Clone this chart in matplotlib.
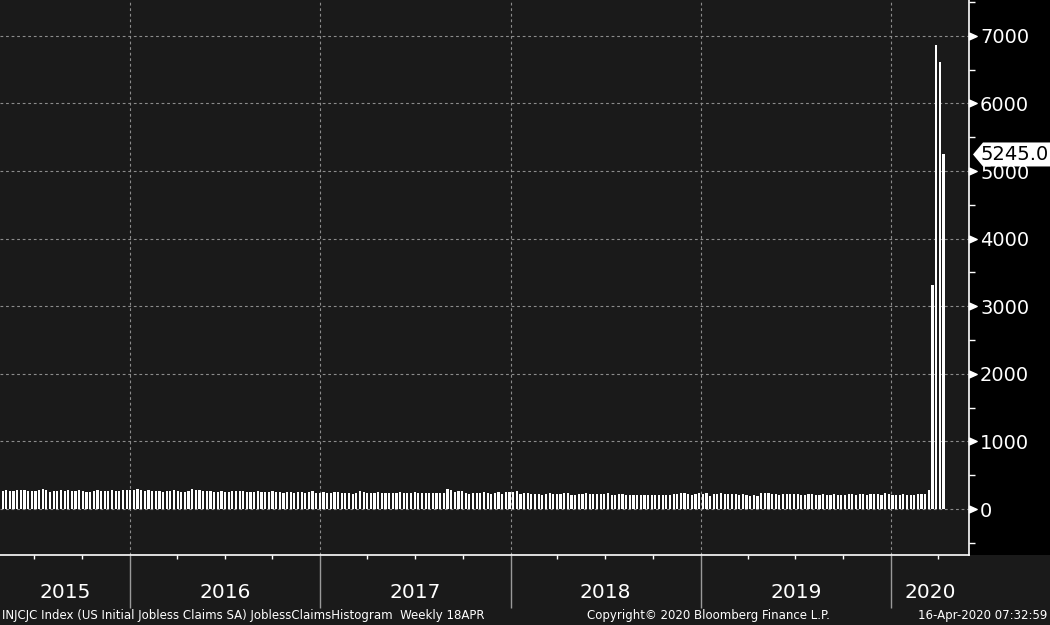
import matplotlib
matplotlib.use("Agg")
import matplotlib.pyplot as plt
import matplotlib.dates as mdates
from matplotlib.patches import Rectangle, Polygon
from matplotlib.path import Path
from matplotlib.transforms import blended_transform_factory
import numpy as np
import pandas as pd

plt.rcParams['font.family'] = ['DejaVu Sans']

# ---- data (US initial jobless claims SA, thousands, weekly) ----
first_week = "2015-05-02"
claims_2015 = [265, 275, 264, 274, 282, 276, 279, 268, 274, 271,
               281, 297, 281, 255, 267, 270, 277, 272, 282, 264,
               267, 277, 264, 255, 259, 262, 276, 271, 260, 272,
               283, 270, 271, 282, 287]
claims_2016 = [277, 284, 293, 278, 267, 285, 269, 262, 272, 259,
               267, 265, 276, 267, 248, 257, 274, 294, 278, 275,
               268, 267, 268, 258, 254, 269, 253, 252, 266, 262,
               262, 261, 254, 249, 252, 260, 254, 249, 258, 265,
               254, 246, 235, 252, 254, 242, 253, 258, 241, 254,
               265, 237, 244]
claims_2017 = [247, 235, 234, 259, 246, 238, 239, 244, 223, 242,
               261, 258, 241, 234, 243, 257, 238, 236, 232, 244,
               240, 248, 234, 244, 241, 246, 244, 234, 244, 240,
               232, 236, 244, 236, 298, 284, 259, 262, 260, 244,
               222, 233, 240, 239, 249, 238, 225, 236, 245, 225,
               245, 245]
claims_2018 = [250, 261, 220, 233, 231, 221, 225, 223, 210, 222,
               230, 227, 229, 216, 233, 230, 209, 211, 223, 224,
               234, 221, 218, 222, 227, 220, 231, 214, 208, 216,
               218, 211, 209, 213, 209, 203, 208, 202, 201, 206,
               214, 211, 214, 210, 216, 223, 230, 234, 227, 208,
               216, 232]
claims_2019 = [217, 231, 200, 215, 217, 236, 224, 225, 219, 227,
               209, 219, 209, 198, 207, 192, 230, 230, 230, 226,
               218, 211, 218, 221, 216, 229, 223, 209, 207, 216,
               218, 206, 212, 219, 213, 206, 215, 214, 206, 212,
               219, 222, 214, 215, 220, 212, 228, 220, 217, 204,
               235, 224]
claims_2020 = [210, 209, 214, 220, 202, 205, 211, 216, 220, 215,
               282, 3307, 6867, 6615, 5245]
claims = claims_2015 + claims_2016 + claims_2017 + claims_2018 + claims_2019 + claims_2020
weeks = pd.date_range(first_week, periods=len(claims), freq="7D")

y_major = [0, 1000, 2000, 3000, 4000, 5000, 6000, 7000]
y_minor = [-500, 500, 1500, 2500, 3500, 4500, 5500, 6500, 7500]
years = [2015, 2016, 2017, 2018, 2019, 2020]
x_start = pd.Timestamp("2015-04-27")
x_end = pd.Timestamp("2020-05-30")

footer_left = "INJCJC Index (US Initial Jobless Claims SA) JoblessClaimsHistogram  Weekly 18APR"
footer_mid = "Copyright\u00a9 2020 Bloomberg Finance L.P."
footer_right = "16-Apr-2020 07:32:59"

# ---- figure ----
W, H = 1050, 625
BG = "#1a1a1a"
fig = plt.figure(figsize=(W / 100, H / 100), dpi=100, facecolor=BG)
ax_r, ax_b = 969, 555
fig.patches.append(Rectangle((ax_r / W, 1 - ax_b / H), 1 - ax_r / W, ax_b / H,
                             transform=fig.transFigure, facecolor="black",
                             edgecolor="none", zorder=-5))
ax = fig.add_axes([0, 1 - ax_b / H, ax_r / W, ax_b / H])
ax.set_zorder(2)
ax.set_facecolor(BG)

ax.bar(weeks, claims, width=4.2, color="white", zorder=3, linewidth=0)

ax.set_xlim(x_start, x_end)
ax.set_ylim(-680, 7530)

# spines
for s in ["top", "left"]:
    ax.spines[s].set_visible(False)
for s in ["bottom", "right"]:
    ax.spines[s].set_color("white")
    ax.spines[s].set_linewidth(1.2)

# y axis on right
ax.yaxis.tick_right()
ax.set_yticks(y_major)
ax.set_yticks(y_minor, minor=True)
ax.yaxis.set_major_formatter(matplotlib.ticker.FuncFormatter(lambda v, p: f"{v:.0f}"))
ax.tick_params(axis="y", which="major", length=0, pad=8, labelsize=14, labelcolor="white")
ax.tick_params(axis="y", which="minor", length=4, width=1, color="white", direction="out")
ax.grid(axis="y", which="major", color="#8c8c8c", linestyle=(0, (2.5, 2.5)), linewidth=0.8, zorder=1)

tri = Path([(0, -0.45), (1, 0), (0, 0.45), (0, -0.45)],
           [Path.MOVETO, Path.LINETO, Path.LINETO, Path.CLOSEPOLY])
ax.plot(np.ones(len(y_major)), y_major, transform=ax.get_yaxis_transform(),
        marker=tri, markersize=11, color="white", linestyle="none", clip_on=False, zorder=5)

# x axis
ax.xaxis.set_major_locator(mdates.YearLocator())
ax.xaxis.set_minor_locator(mdates.MonthLocator(bymonth=[4, 7, 10]))
ax.xaxis.set_major_formatter(matplotlib.ticker.NullFormatter())
ax.tick_params(axis="x", which="major", length=38, width=1, color="#9a9a9a", direction="out")
ax.tick_params(axis="x", which="minor", length=3, width=1, color="white", direction="out")
ax.grid(axis="x", which="major", color="#8c8c8c", linestyle=(0, (2.5, 2.5)), linewidth=0.8, zorder=1)

xt = ax.get_xaxis_transform()
for yr in years:
    a = max(pd.Timestamp(f"{yr}-01-01"), x_start)
    b = min(pd.Timestamp(f"{yr + 1}-01-01"), x_end)
    mid = a + (b - a) / 2
    ax.text(mid, -38 / ax_b, str(yr), transform=xt, ha="center", va="center",
            color="white", fontsize=14.5)

# last value tag
last = claims[-1]
upp = (ax.get_ylim()[1] - ax.get_ylim()[0]) / ax_b  # data units per pixel
bt = blended_transform_factory(fig.transFigure, ax.transData)
hh = 12 * upp
tag = Polygon([(973 / W, last), (983 / W, last + hh), (1050 / W, last + hh),
               (1050 / W, last - hh), (983 / W, last - hh)], closed=True,
              transform=bt, facecolor="white", edgecolor="none", clip_on=False, zorder=6)
fig.patches.append(tag)
fig.text(981 / W, last, f"{last:.1f}", transform=bt, ha="left", va="center",
         color="black", fontsize=14, zorder=7)

# footer
fy = 1 - 616 / H
fig.text(2 / W, fy, footer_left, color="white", fontsize=8.5, ha="left", va="center")
fig.text(708 / W, fy, footer_mid, color="white", fontsize=8.5, ha="center", va="center")
fig.text(1047 / W, fy, footer_right, color="white", fontsize=8.5, ha="right", va="center")

fig.savefig("out.png", dpi=100, facecolor=BG)
